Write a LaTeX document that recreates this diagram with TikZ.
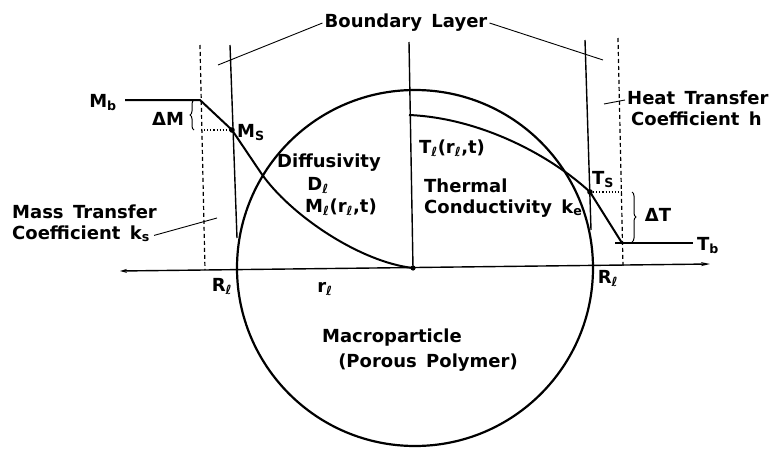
\documentclass[tikz,border=0pt]{standalone}
\usepackage{fontspec}
\setmainfont{DejaVu Sans}[WordSpace=1.5]
\usetikzlibrary{arrows.meta,positioning,decorations.pathreplacing}
\tikzset{
  lbl/.style={font=\bfseries\fontsize{18}{21}\selectfont,inner sep=0pt,
    text height=12pt,text depth=4pt},
  wall/.style={line width=1.4pt},
  film/.style={line width=1.2pt,dash pattern=on 4pt off 3pt},
  leader/.style={line width=0.9pt},
  profile/.style={line width=2pt,line join=round},
  guide/.style={line width=1.1pt,dotted},
  brc/.style={decorate,decoration={brace,amplitude=4pt},line width=1pt},
  axis/.style={line width=1.4pt}
}

\begin{document}
\begin{tikzpicture}[x=1pt,y=-1pt]
\useasboundingbox (0,0) rectangle (776,450);
% particle and radial axis
\node[circle,draw,line width=2.2pt,minimum size=356pt,inner sep=0pt] (part) at (415,268) {};
\coordinate (axL) at (120,271);
\coordinate (axR) at (710,264);
\coordinate (ctr) at (413,268);
\draw[axis,{Stealth[length=7pt,width=4pt]}-{Stealth[length=9pt,width=4pt]}] (axL) -- (axR);
\fill (ctr) circle (2.6pt);

% boundary layer walls and film edges
\draw[wall] (409,42) -- (ctr);
\draw[wall] (230,45) -- (237,238);
\draw[wall] (585,40) -- (591,230);
\draw[film] (200,45) -- (205,270);
\draw[film] (618,38) -- (623,266);

% concentration profile
\coordinate (mk) at (200,100);
\coordinate (ms) at (232,130);
\draw[profile] (125,100) -- (mk) -- (ms) -- (261,173)
  .. controls (290,215) and (360,262) .. (ctr);
\fill (ms) circle (2.8pt);
\draw[guide] (201,130) -- (ms);
\draw[brc] (194,130) -- (194,100);

% temperature profile
\coordinate (ts) at (590,192);
\coordinate (tk) at (622,243);
\draw[profile] (409,115) .. controls (480,118) and (550,155) .. (ts) -- (tk);
\draw[profile] (615,243) -- (693,243);
\fill (ts) circle (2.8pt);
\draw[guide] (ts) -- (622,192);
\draw[brc] (632,192) -- (632,242);

% labels
\node[lbl] (bl) at (406,23) {Boundary Layer};
\coordinate (blL) at (218,65);
\coordinate (blR) at (603,60);
\draw[leader] ([xshift=-2pt]bl.west) -- (blL);
\draw[leader] ([xshift=2pt]bl.east) -- (blR);

\node[lbl] (mb) at (103,103) {M\textsubscript{b}};
\node[lbl] (dm) at (168,121) {ΔM};
\node[lbl,anchor=west] (mslbl) at (237,133) {M\textsubscript{S}};
\node[lbl] (dif) at (329,163) {Diffusivity};
\node[lbl] (dl) at (318,186) {D\textsubscript{ℓ}};
\node[lbl] (ml) at (341,208) {M\textsubscript{ℓ}(r\textsubscript{ℓ},t)};

\node[lbl,anchor=west] (mass) at (12,214) {Mass Transfer};
\node[lbl,below=5pt of mass.south west,anchor=north west] (masscoef) {Coefficient k\textsubscript{s}};
\coordinate (massend) at (217,218);
\draw[leader] ([xshift=4pt]masscoef.east) -- (massend);

\node[lbl] (rl1) at (222,287) {R\textsubscript{ℓ}};
\node[lbl] (rl) at (325,288) {r\textsubscript{ℓ}};
\node[lbl] (rl2) at (608,279) {R\textsubscript{ℓ}};

\node[lbl] (tl) at (452,149) {T\textsubscript{ℓ}(r\textsubscript{ℓ},t)};
\node[lbl,anchor=west] (therm) at (424,188) {Thermal};
\node[lbl,below=5pt of therm.south west,anchor=north west] (cond) {Conductivity k\textsubscript{e}};
\node[lbl] (tslbl) at (603,180) {T\textsubscript{S}};
\node[lbl] (dt) at (658,217) {ΔT};
\node[lbl] (tb) at (708,246) {T\textsubscript{b}};

\node[lbl,anchor=west] (heat) at (627,100) {Heat Transfer};
\node[lbl,below=5pt of heat.south west,anchor=north west,xshift=4pt] (heatcoef) {Coefficient h};
\coordinate (heatend) at (604,104);
\draw[leader] ([xshift=-2pt]heat.west) -- (heatend);

\node[lbl] (macro) at (392,338) {Macroparticle};
\node[lbl] (poly) at (428,363) {(Porous Polymer)};
\end{tikzpicture}
\end{document}
